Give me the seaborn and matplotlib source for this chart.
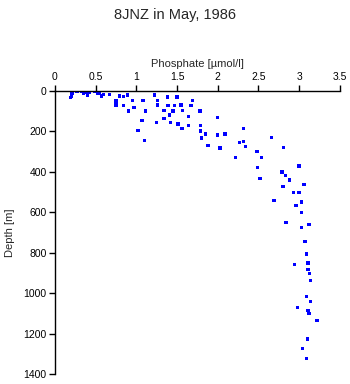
import matplotlib
matplotlib.use("Agg")
import matplotlib.pyplot as plt
import seaborn as sns
import pandas as pd

phosphate = [0.19, 0.20, 0.21, 0.21, 0.25, 0.27, 0.30, 0.33, 0.35, 0.38, 0.40, 0.42, 0.46, 0.49,
             0.51, 0.53, 0.55, 0.57, 0.60, 0.67,
             0.75, 0.75, 0.79, 0.84, 0.84, 0.89, 0.90, 0.95, 0.97, 1.02, 1.07, 1.08, 1.11, 1.10,
             1.22, 1.26, 1.26, 1.25, 1.34, 1.34, 1.38, 1.39, 1.41, 1.42, 1.45, 1.47, 1.50, 1.51,
             1.55, 1.56, 1.57, 1.64, 1.64, 1.67, 1.69, 1.78, 1.79, 1.79, 2.00, 1.85, 1.80, 1.88,
             2.00, 2.09, 2.03, 2.32, 2.27, 2.32, 2.34, 2.22, 2.48, 2.54, 2.49, 2.52, 2.66, 2.81,
             2.79, 2.83, 2.88, 2.80, 2.93, 3.00, 3.00, 3.06, 2.69, 3.03, 2.96, 3.03, 2.84, 3.12,
             3.03, 3.07, 3.09, 3.11, 2.94, 3.11, 3.13, 3.14, 3.09, 3.14, 2.98, 3.11, 3.12, 3.22,
             3.10, 3.04, 3.09]
depth = [35, 28, 12, 2, 0, 2, 0, 3, 13, 8, 25, 10, 0, 5,
         2, 13, 8, 26, 18, 18,
         51, 71, 26, 30, 74, 21, 100, 49, 82, 197, 149, 48, 101, 246,
         21, 48, 72, 156, 98, 137, 31, 74, 121, 156, 100, 74, 31, 165,
         72, 186, 98, 129, 173, 74, 48, 100, 171, 200, 133, 214, 235, 270,
         220, 215, 283, 186, 255, 250, 275, 329, 300, 331, 379, 435, 232, 280,
         402, 418, 441, 473, 502, 373, 502, 464, 543, 551, 568, 602, 652, 660,
         675, 746, 808, 851, 858, 883, 902, 939, 1016, 1041, 1072, 1085, 1102, 1135,
         1227, 1275, 1322]

x_ticks = [0, 0.5, 1, 1.5, 2, 2.5, 3, 3.5]
x_tick_labels = ["0", "0.5", "1", "1.5", "2", "2.5", "3", "3.5"]
y_ticks = [0, 200, 400, 600, 800, 1000, 1200, 1400]

title = "8JNZ in May, 1986"
x_label = "Phosphate [\u00b5mol/l]"
y_label = "Depth [m]"

sns.set_theme(style="white")
plt.rcParams["font.family"] = ["Liberation Sans", "DejaVu Sans"]

df = pd.DataFrame({"phosphate": phosphate, "depth": depth})

fig = plt.figure(figsize=(3.5, 3.84), dpi=100)
ax = fig.add_axes([0.157, 0.026, 0.814, 0.738])
sns.scatterplot(data=df, x="phosphate", y="depth", marker="s", s=6,
                color="#0000ff", edgecolor="none", linewidth=0, ax=ax)

ax.set_xlim(0, 3.5)
ax.set_ylim(1400, 0)
ax.set_xticks(x_ticks)
ax.set_xticklabels(x_tick_labels)
ax.set_yticks(y_ticks)
ax.xaxis.tick_top()
ax.xaxis.set_label_position("top")
ax.tick_params(axis="both", direction="out", length=4, width=1, colors="black",
               labelsize=7.5, pad=2)
ax.tick_params(axis="x", top=True, bottom=False)
ax.tick_params(axis="y", left=True, right=False)
for side in ["right", "bottom"]:
    ax.spines[side].set_visible(False)
for side in ["top", "left"]:
    ax.spines[side].set_color("black")
    ax.spines[side].set_linewidth(1)
ax.set_xlabel(x_label, fontsize=8, labelpad=4)
ax.set_ylabel(y_label, fontsize=8, labelpad=6)
ax.grid(False)

fig.text(0.5, 0.96, title, ha="center", va="center", fontsize=10.5)

fig.savefig("out.png", dpi=100, facecolor="white")
